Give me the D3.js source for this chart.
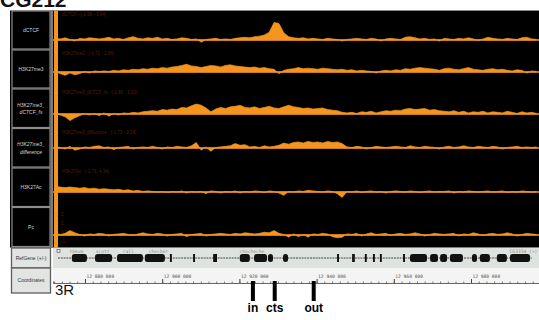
<!DOCTYPE html>
<html>
<head>
<meta charset="utf-8">
<script src="https://cdn.jsdelivr.net/npm/d3@7"></script>
<style>
  body { margin: 0; background: #fff; }
  svg { display: block; font-family: "Liberation Sans", Arial, sans-serif; }
</style>
</head>
<body>
<div id="chart"></div>
<script>
// track names and values (one value per bin)
const trackLabels = [["dCTCF"], ["H3K27me3"], ["H3K27me3_", "dCTCF_fs"], ["H3K27me3_", "difference"], ["H3K27Ac"], ["Pc"]];
const trackTitles = ["dCTCF - [-1.98 - 3.04]", "H3K27me3 - [-1.71 - 2.96]", "H3K27me3_dCTCF_fs - [-1.80 - 3.12]",
  "H3K27me3_difference - [-1.73 - 2.34]", "H3K27Ac - [-1.71, 4.34]", ""];
const pcTicks = [2, 1, 0, -1];

const dCTCF = [0.3,0.2,0.4,0.1,-0.2,0.3,0.2,0.4,0.3,0.2, 0.3,0.5,0.2,0.3,0.1,0.4,0.6,0.3,0.2,0.4,
  0.3,0.5,0.2,0.3,0.1,0.2,0.4,0.3,0.1,0.2, -0.4,0.1,0.2,0.3,0.1,0.2,0.1,0.3,0.4,0.5,
  0.4,0.6,0.7,0.9,1.4,3.2,3.0,1.3,0.6,0.4, 0.3,0.4,0.2,0.3,0.2,0.1,0.3,0.2,0.1,-0.2,
  0.1,0.2,0.3,0.2,0.1,0.3,0.2,-0.2,0.2,0.3, 0.2,0.1,0.5,0.6,0.4,0.2,0.3,0.1,0.2,-0.2,
  0.3,0.2,0.1,0.3,0.2,0.4,0.2,-0.1,0.2,0.5, 0.3,0.2,0.1,0.3,0.2,0.1,0.4,0.5,0.2,0.1];
const h3k27me3 = [0.1,-0.3,-0.6,-0.2,-0.5,-0.3,0.1,-0.2,0.2,0.1, 0.2,0.1,0.3,0.2,0.4,0.3,0.5,0.4,0.6,0.5,
  0.7,0.6,0.8,0.7,0.9,1.0,1.2,1.4,1.1,1.0, 0.8,1.0,1.2,1.1,0.9,1.2,1.3,1.1,1.0,0.9,
  0.8,0.9,0.7,0.8,0.6,0.5,-0.3,0.3,0.5,0.6, 0.8,0.6,0.7,0.6,0.5,0.7,0.6,0.5,0.4,0.5,
  0.3,0.4,0.2,0.3,0.2,0.1,-0.2,0.2,0.3,0.2, 0.4,0.3,0.6,0.5,0.7,0.8,0.7,0.6,0.5,0.3,
  0.6,0.7,0.5,0.4,0.6,0.8,0.5,0.4,0.3,0.5, 0.6,0.4,0.5,0.3,0.2,0.4,0.3,-0.2,0.2,0.1];
const h3k27me3Fs = [0.1,-0.2,-0.5,-1.2,-0.7,-0.3,0.1,-0.2,0.1,-0.3, 0.2,-0.4,0.1,-0.2,0.2,0.1,0.3,0.2,0.4,0.5,
  0.6,0.5,0.8,0.7,0.9,0.8,1.2,1.1,1.5,1.8, 1.6,1.1,0.4,0.9,1.2,1.0,1.3,1.4,1.6,1.2,
  1.1,1.3,1.0,1.2,1.4,1.1,1.0,1.3,1.6,1.3, 1.2,1.0,1.1,0.9,1.0,1.1,0.8,0.7,0.6,0.3,
  0.2,0.3,0.1,0.4,0.3,0.5,0.2,0.4,0.6,0.5, 0.7,0.6,0.9,1.0,0.8,0.9,1.0,0.7,0.8,0.6,
  0.5,0.4,0.6,0.3,0.5,0.2,0.4,0.3,0.5,0.2, 0.4,0.3,0.2,0.5,0.3,0.1,0.4,0.2,0.3,0.1];
const h3k27me3Diff = [0.2,0.1,-0.2,0.3,-0.4,-0.2,0.2,0.1,0.3,0.4, 0.1,0.2,-0.3,0.1,0.2,0.3,-0.2,0.1,0.2,0.1,
  0.3,0.1,-0.2,0.2,0.1,0.3,0.2,0.1,0.4,1.0, -0.4,0.2,-0.6,0.1,0.2,0.3,0.4,0.8,0.5,0.6,
  0.2,0.3,0.1,0.4,0.2,0.3,0.5,0.9,0.7,1.0, 1.1,0.9,1.2,1.0,1.1,0.9,1.2,1.0,1.1,0.8,
  0.2,0.1,0.3,0.2,-0.2,0.1,0.3,0.2,0.1,0.2, 0.3,0.2,0.1,0.4,0.2,0.1,0.3,0.2,0.1,-0.2,
  0.2,0.3,0.1,0.2,0.4,0.2,0.1,0.3,0.2,0.1, 0.3,0.2,-0.2,0.1,0.2,0.3,0.1,0.2,0.1,0.2];
const h3k27ac = [1.0,0.9,0.8,0.9,0.8,0.7,0.8,0.6,0.7,0.5, 0.6,0.5,0.4,0.5,0.3,0.4,0.2,0.3,0.1,0.2,
  0.1,0.0,0.1,-0.1,0.1,0.0,0.2,-0.2,0.1,0.0, 0.1,-0.3,0.2,0.1,-0.2,0.1,0.0,0.2,-0.2,0.1,
  0.0,0.2,0.1,-0.1,0.2,0.1,-0.2,-0.6,0.1,0.0, 0.2,0.1,0.3,0.2,0.1,0.0,0.2,0.1,-0.3,-1.0,
  0.1,0.0,0.2,-0.1,0.1,0.2,0.0,0.1,-0.2,0.1, 0.2,0.1,0.0,0.2,0.1,-0.1,0.1,0.2,0.0,0.1,
  0.1,0.2,-0.2,0.1,0.0,0.2,0.1,0.0,0.1,0.2, 0.0,0.1,0.2,-0.1,0.1,0.0,0.2,0.1,0.0,0.1];
const pc = [0.2,0.1,0.3,0.8,0.4,0.1,-0.2,0.2,0.1,0.3, 0.2,-0.2,0.1,0.2,0.3,0.1,-0.1,0.2,0.4,0.2,
  0.1,0.3,0.2,-0.2,0.1,0.2,0.3,-0.3,0.1,0.2, 0.3,-0.2,0.1,0.2,0.3,0.2,0.1,0.3,0.2,0.4,
  0.3,0.2,0.3,0.5,0.4,0.8,0.3,0.1,-0.4,0.2, -0.3,0.1,-0.4,0.2,0.1,0.3,0.2,-0.3,-0.5,-0.4,
  0.2,0.1,0.3,-0.2,0.2,0.4,0.1,0.2,0.3,-0.1, 0.2,0.3,0.1,0.2,0.4,0.2,-0.2,0.1,0.3,0.2,
  0.1,0.2,0.3,-0.2,0.2,0.1,0.4,0.2,-0.1,0.2, 0.3,0.1,0.2,0.4,0.2,-0.2,0.1,0.3,0.2,0.1];
const trackValues = [dCTCF, h3k27me3, h3k27me3Fs, h3k27me3Diff, h3k27ac, pc];

// genes: [start, end] exons and name labels
const exons = [[12876600,12880500],[12882600,12887000],[12888300,12895000],[12895500,12900700],
  [12902000,12902500],[12908000,12908500],[12913200,12914200],[12920100,12922700],[12923800,12927150],
  [12927400,12928700],[12931300,12932600],[12945300,12945800],[12949200,12949900],[12952500,12953000],
  [12954600,12955100],[12956400,12956900],[12962400,12962900],[12964200,12968600],[12969400,12971450],
  [12972000,12973800],[12974550,12977900],[12980250,12981550],[12982300,12984900],[12986700,12989300],
  [12990100,12995300]];
const geneNames = ["tbkum", "scott", "rall", "checher", "checheche", "CG3334 (+)"];
const geneNamePos = [12876000, 12882800, 12889800, 12896500, 12920000, 12990000];
const coordTicks = [12880000, 12900000, 12920000, 12940000, 12960000, 12980000];
const markers = ["in", "cts", "out"];
const markerPos = [12923500, 12929150, 12939250];

const W = 539, H = 320;
const orange = "#f5951f";
const binStart = 12871700, binSize = 1259;

const svg = d3.select("#chart").append("svg")
  .attr("width", W).attr("height", H);

svg.append("rect").attr("width", W).attr("height", H).attr("fill", "#fff");

const x = d3.scaleLinear().domain([12871710, 12997617]).range([53, 539]);

// title, cut by the top edge as in the figure
svg.append("text").attr("x", 0).attr("y", 6.5)
  .attr("font-size", 21).attr("font-weight", "bold").attr("fill", "#111")
  .text("CG212");

// dark panel
svg.append("rect").attr("x", 10).attr("y", 10).attr("width", W - 10).attr("height", 237.5).attr("fill", "#000");
svg.append("line").attr("x1", 10).attr("x2", W).attr("y1", 10.5).attr("y2", 10.5)
  .attr("stroke", "#8a8a8a").attr("stroke-width", 1.2);

const rowTops = [10.5, 49.5, 88.5, 128, 167.5, 207, 247];
const baselines = [40, 72, 114, 148, 192, 235];

// label column boxes
for (let i = 0; i < 6; i++) {
  svg.append("rect").attr("x", 12).attr("y", rowTops[i] + 0.5)
    .attr("width", 38).attr("height", rowTops[i + 1] - rowTops[i] - 1)
    .attr("fill", "#000").attr("stroke", "#8c8c8c").attr("stroke-width", 1.2);
  const lines = trackLabels[i];
  const mid = (rowTops[i] + rowTops[i + 1]) / 2 + 2;
  lines.forEach((t, j) => {
    svg.append("text").attr("x", 31).attr("y", mid + (j - (lines.length - 1) / 2) * 7.5)
      .attr("text-anchor", "middle").attr("font-size", 5).attr("fill", "#d8d8d8")
      .attr("font-style", lines.length > 1 ? "italic" : "normal")
      .text(t);
  });
}
svg.append("rect").attr("x", 50.5).attr("y", 10).attr("width", 2.5).attr("height", 238).attr("fill", "#7d7d7d");

// signal tracks
const area = d3.area().curve(d3.curveLinear);
trackValues.forEach((vals, i) => {
  const y0 = baselines[i];
  const y = d3.scaleLinear().domain([0, 1]).range([y0, y0 - 5.5]);
  const clipId = "clip" + i;
  svg.append("clipPath").attr("id", clipId).append("rect")
    .attr("x", 53).attr("y", rowTops[i]).attr("width", W - 53).attr("height", rowTops[i + 1] - rowTops[i]);
  const g = svg.append("g").attr("clip-path", `url(#${clipId})`);
  const pts = vals.map((v, k) => [x(binStart + (k + 0.5) * binSize), v]);
  area.x(d => d[0]).y0(y(0)).y1(d => y(d[1]));
  g.append("path").datum(pts).attr("d", area).attr("fill", orange)
    .attr("stroke", orange).attr("stroke-width", 0.7).attr("stroke-linejoin", "round");
  g.append("line").attr("x1", 53).attr("x2", W).attr("y1", y(0)).attr("y2", y(0))
    .attr("stroke", orange).attr("stroke-width", 1.6);
  if (trackTitles[i]) {
    svg.append("text").attr("x", 62).attr("y", rowTops[i] + 5.5)
      .attr("font-size", 4.5).attr("fill", "#5a1c05").text(trackTitles[i]);
  }
});

// Pc faint scale labels
const pcY = d3.scaleLinear().domain([-1, 2]).range([241, 214]);
pcTicks.forEach(t => {
  svg.append("text").attr("x", 61).attr("y", pcY(t) + 1.5).attr("font-size", 4.5)
    .attr("fill", "#5a1c05").text(t);
});

// orange edge at start of the region
svg.append("rect").attr("x", 54).attr("y", 10.5).attr("width", 4).attr("height", 238.5).attr("fill", orange);

// lower label boxes
[["RefGene (+/-)", 248, 20], ["Coordinates", 268, 25]].forEach(([t, y0, h]) => {
  svg.append("rect").attr("x", 11.5).attr("y", y0).attr("width", 39).attr("height", h)
    .attr("fill", "#e2e4e2").attr("stroke", "#5d5d5d").attr("stroke-width", 1.3);
  svg.append("text").attr("x", 31).attr("y", y0 + h / 2 + 1.8).attr("text-anchor", "middle")
    .attr("font-size", 5).attr("fill", "#333").text(t);
});

// gene track
svg.append("rect").attr("x", 53).attr("y", 248).attr("width", W - 53).attr("height", 20).attr("fill", "#dfe3df");
svg.append("rect").attr("x", 53).attr("y", 268).attr("width", W - 53).attr("height", 16).attr("fill", "#f3f4f3");
svg.append("rect").attr("x", 57).attr("y", 249.5).attr("width", 3).attr("height", 3)
  .attr("fill", "none").attr("stroke", "#666").attr("stroke-width", 0.7);
svg.append("line").attr("x1", 58).attr("x2", 532).attr("y1", 258).attr("y2", 258)
  .attr("stroke", "#222").attr("stroke-width", 0.8).attr("stroke-dasharray", "2,0.8");
svg.selectAll("rect.exon").data(exons).enter().append("rect").attr("class", "exon")
  .attr("x", d => x(d[0]))
  .attr("width", d => Math.max(1.3, x(d[1]) - x(d[0])))
  .attr("y", 254).attr("height", 8)
  .attr("rx", d => (x(d[1]) - x(d[0]) > 4 ? 2.5 : 0))
  .attr("fill", "#111");
geneNames.forEach((n, i) => {
  svg.append("text").attr("x", x(geneNamePos[i])).attr("y", 252.5)
    .attr("font-family", "DejaVu Sans Mono, monospace").attr("font-size", 4.6)
    .attr("fill", "#8a8a8a").text(n);
});

// coordinate axis
const fmt = d => d3.format(",")(d).replace(/,/g, " ");
const minor = svg.append("g").attr("transform", "translate(0,283)")
  .call(d3.axisTop(x).ticks(60).tickSize(1.5).tickFormat(""));
minor.select(".domain").attr("stroke", "#666");
minor.selectAll(".tick line").attr("stroke", "#777");
const major = svg.append("g").attr("transform", "translate(0,283)")
  .call(d3.axisTop(x).tickValues(coordTicks).tickSize(4).tickPadding(1.5).tickFormat(fmt));
major.select(".domain").remove();
major.selectAll(".tick line").attr("stroke", "#444");
major.selectAll(".tick text").attr("text-anchor", "start").attr("dx", 1)
  .attr("font-size", 4.6).attr("fill", "#555").attr("font-family", "DejaVu Sans Mono, monospace");

// chromosome label
svg.append("text").attr("x", 55).attr("y", 295).attr("font-size", 15).attr("fill", "#111").text("3R");

// position markers
markers.forEach((m, i) => {
  svg.append("rect").attr("x", x(markerPos[i]) - 2).attr("y", 281).attr("width", 4).attr("height", 20).attr("fill", "#000");
  svg.append("text").attr("x", x(markerPos[i])).attr("y", 312).attr("text-anchor", "middle")
    .attr("font-size", 12).attr("font-weight", "bold").attr("fill", "#000").text(m);
});
</script>
</body>
</html>
